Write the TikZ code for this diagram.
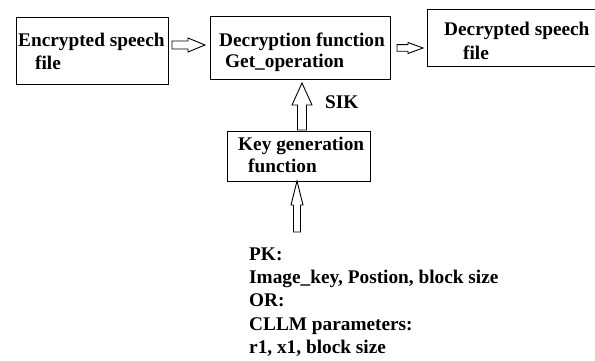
\documentclass[tikz,border=0pt]{standalone}
\usepackage{fontspec}
\setmainfont{Liberation Serif}
\newcommand{\harrow}[6]{%
  \draw[arr] (#1,#3-#4) -- (#2-#6,#3-#4) -- (#2-#6,#3-#5) -- (#2,#3) -- (#2-#6,#3+#5) -- (#2-#6,#3+#4) -- (#1,#3+#4) -- cycle;}
\newcommand{\varrow}[6]{%
  \draw[arr] (#1,#2) -- (#1+#5,#2+#6) -- (#1+#4,#2+#6) -- (#1+#4,#3) -- (#1-#4,#3) -- (#1-#4,#2+#6) -- (#1-#5,#2+#6) -- cycle;}
\begin{document}
\begin{tikzpicture}[x=1pt,y=-1pt,
  box/.style={draw=black, line width=0.9pt, inner sep=0pt},
  arr/.style={draw=black, line width=0.9pt, fill=white, line join=miter},
  txt/.style={inner sep=0pt, anchor=base west, font=\fontsize{19.3}{23}\selectfont\bfseries}]
\useasboundingbox (0,0) rectangle (595,361);
\fill[white] (0,0) rectangle (595,361);
% boxes
\node[box, minimum width=152pt, minimum height=67pt] (enc) at (92,50.5) {};
\node[box, minimum width=180pt, minimum height=63pt] (dec) at (300,47.5) {};
\node[box, minimum width=169pt, minimum height=57pt] (out) at (511.5,37.5) {};
\node[box, minimum width=143pt, minimum height=50pt] (key) at (298.5,156) {};
% texts
\node[txt] (e1) at (18,47) {Encrypted speech};
\node[txt] (e2) at (35,70) {file};
\node[txt] (d1) at (219,46.5) {Decryption function};
\node[txt] (d2) at (225,67.5) {Get\_operation};
\node[txt] (o1) at (444,36) {Decrypted speech};
\node[txt] (o2) at (463,59.5) {file};
\node[txt] (k1) at (238,150) {Key generation};
\node[txt] (k2) at (248,172) {function};
\node[txt] (sik) at (325,109) {SIK};
\node[txt] (p1) at (249,260.5) {PK:};
\node[txt] (p2) at (249,283.5) {Image\_key, Postion, block size};
\node[txt] (p3) at (249,306.5) {OR:};
\node[txt] (p4) at (249,330) {CLLM parameters:};
\node[txt] (p5) at (249,353.5) {r1, x1, block size};
% block arrows
\harrow{172}{205}{45}{4}{7}{17}
\harrow{397}{423}{48}{3.3}{5.5}{15}
\varrow{302}{83}{130}{4.5}{10}{22}
\varrow{297}{181}{232}{3.5}{6}{24}
\end{tikzpicture}
\end{document}
